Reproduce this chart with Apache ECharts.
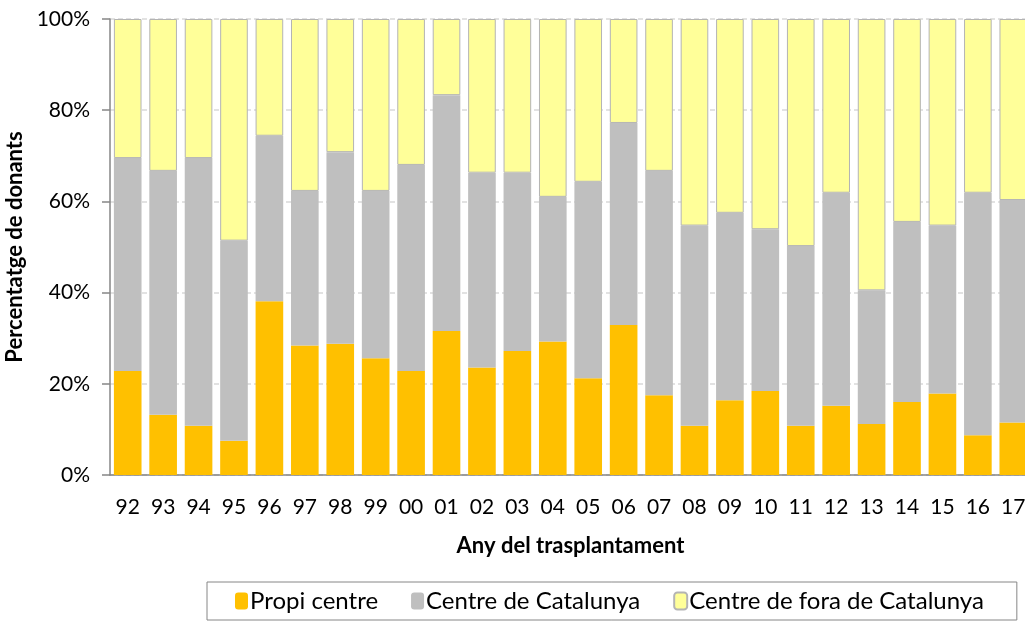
<!DOCTYPE html>
<html>
<head>
<meta charset="utf-8">
<script src="https://cdn.jsdelivr.net/npm/echarts@6/dist/echarts.min.js"></script>
<style>
  html, body { margin: 0; padding: 0; background: #fff; overflow: hidden; }
  #chart { width: 1032px; height: 624px; }
</style>
</head>
<body>
<div id="chart"></div>
<script>
// anys
const years = ["92", "93", "94", "95", "96", "97", "98", "99", "00", "01", "02", "03", "04",
  "05", "06", "07", "08", "09", "10", "11", "12", "13", "14", "15", "16", "17"];

// % de donants per origen
const propiCentre = [22.8, 13.2, 10.8, 7.5, 38.1, 28.4, 28.8, 25.6, 22.8, 31.6, 23.6, 27.2, 29.3,
  21.2, 32.9, 17.5, 10.8, 16.4, 18.4, 10.8, 15.2, 11.2, 16.0, 17.9, 8.7, 11.5];
const centreCatalunya = [46.7, 53.5, 58.7, 43.9, 36.3, 33.9, 42.0, 36.7, 45.2, 51.7, 42.7, 39.1, 31.7,
  43.1, 44.3, 49.2, 43.9, 41.1, 35.5, 39.4, 46.7, 29.3, 39.5, 36.8, 53.2, 48.8];
const centreFora = [30.5, 33.3, 30.5, 48.6, 25.6, 37.7, 29.2, 37.7, 32.0, 16.7, 33.7, 33.7, 39.0,
  35.7, 22.8, 33.3, 45.3, 42.5, 46.1, 49.8, 38.1, 59.5, 44.5, 45.3, 38.1, 39.7];

const font = "Lato, 'Noto Sans', sans-serif";

const Chart = {
  SetOption: function () {
    const bar = (name, data, color, border) => ({
      name: name,
      type: "bar",
      stack: "total",
      data: data,
      barCategoryGap: "22%",
      itemStyle: {
        color: color,
        borderColor: border ? "#b4b4b4" : color,
        borderWidth: border ? 1 : 0,
      },
      emphasis: { disabled: true },
    });
    return {
      animation: false,
      textStyle: { fontFamily: font },
      grid: { left: 110, right: 1, top: 19, bottom: 149, outerBoundsMode: "none" },
      legend: {
        left: 207,
        top: 582,
        padding: [7, 33, 7, 28],
        borderColor: "#868686",
        borderWidth: 1,
        itemWidth: 13,
        itemHeight: 17,
        itemGap: 33,
        textStyle: { fontFamily: font, fontSize: 24, color: "#000", padding: [0, 0, 0, -3] },
        data: ["Propi centre", "Centre de Catalunya", "Centre de fora de Catalunya"],
      },
      xAxis: {
        type: "category",
        data: years,
        name: "Any del trasplantament",
        nameLocation: "middle",
        nameGap: 60,
        nameTextStyle: { fontFamily: font, fontSize: 22, fontWeight: "bold", color: "#000" },
        axisLine: { lineStyle: { color: "#868686", width: 1.5 } },
        axisTick: { length: 8, lineStyle: { color: "#868686", width: 1.5 } },
        axisLabel: { fontSize: 21, color: "#000", margin: 22 },
      },
      yAxis: {
        type: "value",
        min: 0,
        max: 100,
        interval: 20,
        name: "Percentatge de donants",
        nameLocation: "middle",
        nameGap: 81,
        nameRotate: 90,
        nameTextStyle: { fontFamily: font, fontSize: 22, fontWeight: "bold", color: "#000" },
        axisLine: { show: true, lineStyle: { color: "#868686", width: 1.5 } },
        axisTick: { show: true, length: 8, lineStyle: { color: "#868686", width: 1.5 } },
        axisLabel: { fontSize: 21, color: "#000", margin: 20, formatter: "{value}%" },
        splitLine: { lineStyle: { color: "#d9d9d9", width: 1.5, type: [5, 3] } },
      },
      series: [
        bar("Propi centre", propiCentre, "#ffc000", false),
        bar("Centre de Catalunya", centreCatalunya, "#bfbfbf", false),
        bar("Centre de fora de Catalunya", centreFora, "#ffff99", true),
      ],
    };
  },
  InitChart: function (option, id) {
    const chartDom = document.getElementById(id);
    const mychart = echarts.init(chartDom);
    mychart.setOption(option);
  },
};

Chart.InitChart(Chart.SetOption(), "chart");
</script>
</body>
</html>
